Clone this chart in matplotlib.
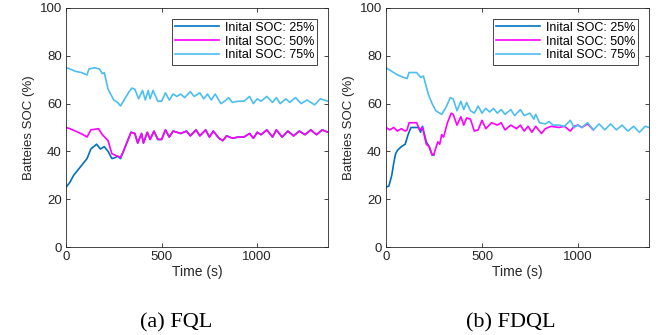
import matplotlib
matplotlib.use("Agg")
import matplotlib.pyplot as plt

plt.rcParams['font.family'] = ['Liberation Sans', 'DejaVu Sans']

# ---- data (time in s, SOC in %) ----
# (a) FQL
fql_t75 = [0, 20, 50, 80, 110, 120, 150, 175, 190, 200, 220, 250, 270, 285, 300, 330, 345, 360, 380,
           400, 415, 430, 440, 455, 480, 500, 520, 540, 560, 580, 600, 620, 650, 670, 700, 720, 740,
           760, 780, 810, 830, 850, 870, 900, 930, 960, 980, 1000, 1020, 1050, 1080, 1100, 1120,
           1150, 1170, 1200, 1230, 1260, 1300, 1330, 1370]
fql_v75 = [75, 74.5, 73.5, 73, 72, 74.5, 75, 74.5, 72.5, 73, 66, 61.5, 60.5, 59, 61, 65, 66.5, 66, 62,
           65.5, 61.5, 65.5, 62, 65.5, 61, 61, 64.5, 61.5, 64, 63, 64, 62.5, 65, 63, 64.5, 62, 64,
           61.5, 64, 60, 61, 62.5, 60.5, 61, 61, 63, 60, 62, 61, 63, 60.5, 62.5, 60,
           62, 60.5, 62.5, 60, 61.5, 59.5, 62, 61]

fql_t50 = [0, 20, 50, 90, 110, 130, 170, 190, 220, 240, 270, 285, 300, 320, 340, 360, 375, 395, 405,
           425, 440, 460, 480, 500, 520, 540, 560, 600, 630, 650, 680, 700, 730, 750, 770, 800, 820,
           840, 870, 900, 930, 960, 980, 1000, 1020, 1050, 1080, 1100, 1130, 1160, 1190, 1220,
           1250, 1280, 1310, 1340, 1370]
fql_v50 = [50, 49.5, 48.5, 47, 46, 49, 49.5, 47, 44.5, 39, 38, 37.5, 40, 44, 48, 47.5, 43.5, 47.5, 43.5,
           48, 45, 48.5, 45, 45, 49, 46, 48.5, 47.5, 48.5, 46.5, 49, 46.5, 49, 46, 48.5, 45.5, 44.5,
           46.5, 45.5, 46, 46, 47.5, 45.5, 48, 47, 49, 46, 49, 46, 48.5, 46.5, 48.5,
           47, 49, 47, 49, 48]

fql_t25 = [0, 20, 40, 60, 90, 110, 130, 160, 180, 200, 220, 240, 260, 270, 285, 300, 320, 340, 360,
           375, 395, 405, 425, 440, 460, 480, 500, 520, 540, 560, 600, 630, 650, 680, 700, 730, 750,
           770, 800, 820, 840, 870, 900, 930, 960, 980, 1000, 1020, 1050, 1080, 1100, 1130, 1160,
           1190, 1220, 1250, 1280, 1310, 1340, 1370]
fql_v25 = [25, 27, 30, 32, 35, 37, 41, 43, 41, 42, 40, 37, 37.5, 38, 37, 40, 44, 48, 47.5,
           43.5, 47.5, 43.5, 48, 45, 48.5, 45, 45, 49, 46, 48.5, 47.5, 48.5, 46.5, 49, 46.5, 49, 46,
           48.5, 45.5, 44.5, 46.5, 45.5, 46, 46, 47.5, 45.5, 48, 47, 49, 46, 49, 46, 48.5,
           46.5, 48.5, 47, 49, 47, 49, 48]

# (b) FDQL
fdql_t75 = [0, 30, 60, 90, 110, 120, 160, 180, 195, 220, 240, 260, 280, 290, 310, 335, 350, 370, 390,
            405, 420, 440, 460, 480, 500, 520, 540, 560, 580, 600, 620, 650, 670, 700, 720, 750, 770,
            780, 800, 830, 850, 870, 900, 930, 960, 980, 1000, 1020, 1050, 1080, 1110, 1140, 1170,
            1200, 1230, 1260, 1290, 1320, 1350, 1370]
fdql_v75 = [75, 73.5, 72, 71, 70.5, 73, 73, 71, 71.5, 64, 60, 57, 56, 55.5, 58, 62.5, 62, 57, 61,
            57.5, 60.5, 57, 56, 59, 56, 58, 56.5, 58, 56, 57.5, 55.5, 57.5, 55, 57.5, 55, 56, 53.5,
            55.5, 52, 51.5, 52.5, 51, 51, 50.5, 53, 50, 51, 50, 52, 49, 51.5, 49, 51.5,
            49, 51, 48.5, 50.5, 48, 50.5, 50]

fdql_t50 = [0, 20, 40, 60, 80, 100, 110, 120, 160, 175, 190, 210, 225, 240, 250, 270, 280, 290, 300,
            320, 340, 350, 370, 390, 405, 420, 440, 460, 480, 500, 520, 550, 580, 600, 620, 650, 680,
            700, 720, 740, 760, 780, 810, 830, 860, 900, 930, 960, 980, 1000, 1020, 1050, 1080]
fdql_v50 = [50, 49, 50, 48.5, 49.5, 48.5, 49, 52, 52, 49, 50, 43, 42, 38.5, 39, 44, 43, 47, 46,
            52, 56, 55.5, 51, 54.5, 51, 54, 53.5, 48.5, 49, 53, 49.5, 52, 51, 52, 49, 51, 49.5,
            51, 48.5, 50.5, 48, 50.5, 47.5, 49.5, 50.5, 50, 50.5, 48.5, 50.5, 51, 50, 51.5, 49]

fdql_t25 = [0, 15, 30, 40, 50, 60, 80, 100, 115, 130, 170, 180, 190, 210, 225, 240, 250]
fdql_v25 = [25, 25.5, 30, 35, 39, 40.5, 42, 43, 47, 50, 50, 48, 50.5, 44, 42, 38.5, 38.5]

labels = ['Inital SOC: 25%', 'Inital SOC: 50%', 'Inital SOC: 75%']
colors = ['#0072BD', '#FF00FF', '#4DBEEE']
captions = ['(a) FQL', '(b) FDQL']

panels = [
    [(fql_t25, fql_v25), (fql_t50, fql_v50), (fql_t75, fql_v75)],
    [(fdql_t25, fdql_v25), (fdql_t50, fdql_v50), (fdql_t75, fdql_v75)],
]

W, H = 660, 335
fig = plt.figure(figsize=(W / 100, H / 100), dpi=100)

# axes boxes in pixels (left, top, width, height)
ax_boxes = [(66, 8, 262, 239), (386, 8, 263, 239)]
caption_x = [176, 511]

for i, (box, series) in enumerate(zip(ax_boxes, panels)):
    x0, y0, w, h = box
    ax = fig.add_axes([x0 / W, (H - y0 - h) / H, w / W, h / H])
    for (t, v), lab, c in zip(series, labels, colors):
        ax.plot(t, v, color=c, lw=1.2, label=lab)
    ax.set_xlim(0, 1370)
    ax.set_ylim(0, 100)
    ax.set_xticks([0, 500, 1000])
    ax.set_yticks([0, 20, 40, 60, 80, 100])
    ax.tick_params(direction='in', top=True, right=True, labelsize=9.5,
                   colors='#262626', length=3, width=0.6, pad=3)
    for s in ax.spines.values():
        s.set_color('#262626')
        s.set_linewidth(0.6)
    ax.set_xlabel('Time (s)', fontsize=10, color='#262626', labelpad=1)
    ax.set_ylabel('Batteies SOC (%)', fontsize=9.5, color='#262626', labelpad=3)
    leg = ax.legend(loc='upper right', fontsize=9, handlelength=3.5, borderaxespad=0.85,
                    fancybox=False, edgecolor='#262626', framealpha=1,
                    borderpad=0.25, labelspacing=0.15, handletextpad=0.5)
    leg.get_frame().set_linewidth(0.6)
    fig.text(caption_x[i] / W, 1 - 323 / H, captions[i], ha='center', va='center',
             fontsize=16, family='Liberation Serif')

fig.savefig('out.png', dpi=100)
